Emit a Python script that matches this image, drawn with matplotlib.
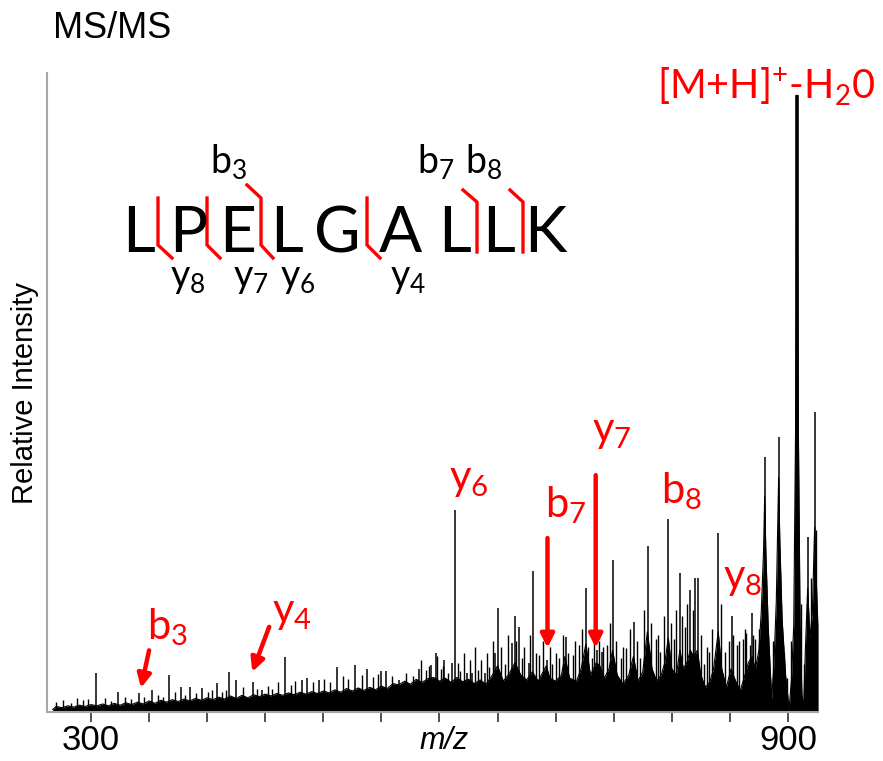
import numpy as np
import matplotlib.pyplot as plt
from matplotlib.lines import Line2D

plt.rcParams['mathtext.default'] = 'regular'

# continuous background of the spectrum (m/z, relative intensity)
env_mz = [267, 270, 275, 280, 285, 290, 295, 300, 305,
          310, 315, 320, 325, 330, 335, 340, 345, 350, 355,
          360, 365, 370, 375, 380, 385, 390, 395, 400, 405,
          410, 415, 420, 425, 430, 435, 440, 445, 450, 455,
          460, 465, 470, 475, 480, 485, 490, 495, 500, 505,
          510, 515, 520, 525, 530, 535, 540, 545, 550, 555,
          560, 565, 570, 575, 580, 585, 590, 595, 600, 605,
          610, 615, 620, 625, 630, 635, 640, 645, 650, 655,
          660, 665, 670, 675, 680, 685, 690, 692, 695, 700,
          705, 708, 712, 718, 722, 726, 730, 735, 738, 742,
          746, 749, 753, 758, 763, 767, 771, 775, 779, 783,
          787, 791, 794, 797, 800, 804, 807, 810, 813, 816,
          819, 822, 825, 829, 833, 836, 840, 843, 847, 851,
          855, 859, 863, 866, 869, 872, 875, 877, 879, 880,
          881, 883, 886, 888, 890, 891, 892, 893, 895, 898,
          901, 903, 905, 906.8, 907.8, 908.8, 910.5, 912, 913.5, 915,
          917, 919, 921, 923, 925, 926]
env_int = [0.4, 0.9, 0.7, 1.0, 0.8, 1.1, 0.9, 1.2, 1.0,
           1.3, 1.0, 1.4, 1.1, 1.5, 1.2, 1.6, 1.3, 1.8, 1.4,
           1.9, 1.6, 2.0, 1.7, 2.1, 1.8, 2.2, 1.9, 2.3, 2.0,
           2.4, 2.1, 2.6, 2.2, 2.7, 2.3, 2.8, 2.5, 2.9, 2.6,
           3.0, 2.7, 3.1, 2.8, 3.2, 2.9, 3.3, 3.0, 3.4, 3.1,
           3.6, 3.2, 3.8, 3.4, 3.9, 3.5, 4.0, 3.6, 4.2, 3.8,
           4.6, 4.4, 5.0, 4.5, 5.3, 4.8, 5.4, 5.6, 5.0, 5.5,
           4.8, 5.6, 4.9, 5.3, 4.6, 5.2, 4.5, 5.8, 7.5, 5.0,
           6.2, 8.0, 6.0, 5.2, 6.5, 5.0, 6.8, 7.5, 5.5, 5.0,
           6.0, 9.0, 5.5, 5.0, 7.0, 11.0, 6.0, 8.0, 7.5, 5.5,
           7.0, 10.0, 6.0, 4.5, 6.0, 9.0, 5.0, 6.5, 13.0, 7.0,
           5.0, 6.0, 8.0, 12.0, 7.0, 6.0, 10.0, 7.0, 8.0, 10.0,
           9.0, 10.0, 6.0, 4.0, 5.0, 7.0, 13.0, 7.0, 4.0, 7.0,
           5.0, 3.5, 6.0, 8.0, 9.0, 7.0, 10.0, 16.0, 26.0, 35.0,
           26.0, 14.0, 2.0, 8.0, 18.0, 28.0, 38.0, 28.0, 15.0, 6.0,
           0.5, 5.0, 14.0, 50.0, 100.0, 50.0, 14.0, 3.0, 0.5, 10.0,
           20.0, 12.0, 16.0, 30.0, 18.0, 14.0]

# resolved fragment peaks
peak_mz = [304.3, 323.3, 341.4, 352.6, 367.2, 377.6, 385.3, 395.7, 408.6, 419.0,
           425.0, 439.7, 447.4, 467.2, 481.9, 486.2, 496.6, 512.1, 527.6, 537.9,
           550.0, 554.3, 565.5, 582.8, 593.1, 596.6, 604.3, 611.2, 613.8, 623.3,
           628.4, 638.8, 647.4, 650.0, 662.1, 664.7, 668.1, 676.7, 680.2, 692.2,
           708.6, 725.9, 735.3, 739.7, 749.1, 767.2, 779.3, 796.6, 806.9, 815.5,
           819.8, 822.4, 839.7, 851.7, 869.0, 880.2, 892.2, 907.8, 917.2, 923.3]
peak_int = [6.3, 3.2, 3.1, 3.6, 6.0, 4.1, 4.1, 3.9, 4.7, 6.5,
            5.2, 4.9, 3.6, 8.9, 5.2, 5.5, 5.2, 7.3, 7.6, 7.0,
            6.6, 6.6, 5.2, 7.0, 7.6, 9.6, 8.4, 7.9, 32.7, 6.3,
            6.3, 6.3, 9.6, 16.9, 11.2, 15.6, 13.8, 7.9, 22.9, 8.4,
            12.2, 20.1, 10.0, 9.7, 24.6, 14.6, 26.9, 31.3, 22.5, 19.8,
            21.7, 21.7, 29.0, 15.6, 16.0, 41.3, 44.6, 100.0, 28.4, 48.6]

# small noise peaks
minor_mz = [270, 276, 283, 288, 293, 297, 312, 317, 329, 334,
            346, 358, 362, 372, 381, 390, 401, 404, 413, 416,
            431, 443, 452, 456, 461, 472, 476, 491, 501, 506,
            517, 521, 533, 543, 547, 559, 571, 577, 588, 601,
            607, 618, 633, 643, 656, 671, 686, 697, 703, 715,
            720, 731, 744, 756, 761, 773, 786, 790, 802, 811,
            828, 832, 846, 856, 861, 864, 867, 872, 914, 920,
            584, 591, 598, 603, 616, 621, 626, 631, 636, 641,
            646, 653, 659, 666, 673, 678, 683, 689, 695, 700,
            706, 711, 717, 723, 728, 733, 737, 741, 747, 752,
            758, 764, 770, 776, 782, 788, 793, 799, 804, 809,
            813, 818, 825, 830, 835, 842, 849, 853, 858, 863,
            870, 875, 885, 887, 897, 899, 903, 911, 916, 924]
minor_int = [1.6, 2.0, 1.5, 2.3, 1.9, 2.1, 2.2, 1.8, 2.5, 2.1,
             2.4, 2.8, 2.5, 3.2, 2.8, 3.1, 3.3, 3.6, 3.2, 3.5,
             4.0, 3.8, 4.2, 3.8, 4.8, 4.4, 5.0, 4.8, 5.4, 4.8,
             5.8, 5.3, 6.0, 5.6, 6.2, 5.8, 6.3, 5.8, 6.8, 7.0,
             6.3, 6.6, 6.8, 7.3, 7.8, 8.8, 9.3, 7.8, 8.8, 9.3,
             10.8, 8.8, 10.8, 8.8, 10.3, 8.8, 11.8, 9.8, 11.8, 13.8,
             7.8, 9.8, 9.8, 10.8, 11.8, 12.8, 10.8, 11.8, 7.8, 21.8,
             8.5, 7.5, 9.0, 7.5, 8.0, 9.5, 8.5, 10.5, 8.5, 9.5,
             11.5, 10.5, 12.5, 11.5, 10.5, 12.5, 9.5, 11.5, 10.5, 9.5,
             12.5, 9.5, 11.5, 13.5, 10.5, 12.5, 11.5, 10.5, 14.5, 11.5,
             10.5, 13.5, 11.5, 16.5, 14.5, 12.5, 15.5, 14.5, 16.5, 15.5,
             17.5, 16.5, 12.5, 10.5, 13.5, 17.5, 11.5, 12.5, 11.5, 13.5,
             12.5, 13.5, 5.5, 11.5, 9.5, 5.5, 11.5, 17.5, 17.5, 29.5]

# annotated ions in the spectrum: label, label position, arrow tail/head
ion_labels = ['$b_3$', '$y_4$', '$y_6$', '$b_7$', '$y_7$', '$b_8$', '$y_8$']
ion_text_mz = [348.3, 456.0, 608.6, 690.5, 731.0, 791.0, 844.0]
ion_text_int = [11.7, 14.4, 36.0, 31.6, 43.8, 33.9, 19.9]
arrow_mz = [(350.0, 343.0), (453.4, 438.8), (693.0, 693.0), (734.5, 734.5)]
arrow_int = [(10.0, 3.9), (13.8, 6.5), (28.2, 10.4), (38.4, 10.4)]

xtick_vals = list(range(300, 901, 50))
xtick_text = ['300'] + [''] * 11 + ['900']

# peptide sequence and fragment labels (pixel positions in the figure)
residues = ['L', 'P', 'E', 'L', 'G', 'A', 'L', 'L', 'K']
residue_x = [138, 188, 238, 287, 337, 400, 454, 499, 545]
frag_labels = ['$b_3$', '$b_7$', '$b_8$', '$y_8$', '$y_7$', '$y_6$', '$y_4$']
frag_x = [210, 417, 465, 170, 233, 280, 390]
frag_y = [173, 173, 173, 287, 287, 287, 287]

W, H = 883, 761
fx = lambda x: x / W
fy = lambda y: 1 - y / H

fig = plt.figure(figsize=(8.83, 7.61), dpi=100)
ax = fig.add_axes([fx(47), fy(712), fx(818) - fx(47), fy(73) - fy(712)])

ax.fill_between(env_mz, 0, env_int, color='black', lw=0)
ax.plot(env_mz, env_int, color='black', lw=0.8)
ax.vlines(minor_mz, 0, minor_int, color='black', lw=1.0)
ax.vlines(peak_mz, 0, peak_int, color='black', lw=1.1)
top = int(np.argmax(peak_int))
ax.vlines(peak_mz[top], 0, peak_int[top], color='black', lw=2.6)

ax.set_xlim(262.1, 925.9)
ax.set_ylim(0, 103.6)
ax.set_yticks([])
ax.set_xticks(xtick_vals)
ax.set_xticklabels(xtick_text, family='Liberation Sans', fontsize=25)
ax.tick_params(axis='x', direction='out', length=7, width=1.2, color='#333333', pad=2)
for s in ['top', 'right']:
    ax.spines[s].set_visible(False)
for s in ['left', 'bottom']:
    ax.spines[s].set_color('#a6a6a6')
    ax.spines[s].set_linewidth(1.5)
ax.set_ylabel('Relative Intensity', family='Liberation Sans', fontsize=21, labelpad=6)
ax.text(604, -0.045, 'm/z', transform=ax.get_xaxis_transform(), ha='center', va='center',
        family='Liberation Sans', style='italic', fontsize=22)

# spectrum annotations
for lab, x, y in zip(ion_labels, ion_text_mz, ion_text_int):
    ax.text(x, y, lab, color='red', family='Lato', fontsize=30, ha='left', va='baseline')
for (x0, x1), (y0, y1) in zip(arrow_mz, arrow_int):
    ax.annotate('', xy=(x1, y1), xytext=(x0, y0),
                arrowprops=dict(arrowstyle='-|>', color='red', lw=3.2, mutation_scale=20,
                                shrinkA=0, shrinkB=0))

fig.text(fx(53), fy(28), 'MS/MS', family='Liberation Sans', fontsize=26, va='center', ha='left')
fig.text(fx(657), fy(99), '[M+H]$^{+}$-H$_{2}$0', color='red', family='Lato', fontsize=28.5,
         ha='left', va='baseline')

# peptide sequence
for r, x in zip(residues, residue_x):
    fig.text(fx(x), fy(252), r, family='Lato', fontsize=46, ha='center', va='baseline')
for lab, x, y in zip(frag_labels, frag_x, frag_y):
    fig.text(fx(x), fy(y), lab, family='Lato', fontsize=27, ha='left', va='baseline')

# cleavage marks
cuts = [
    [(158, 198), (158, 245), (172, 258)],
    [(207, 198), (207, 245), (220, 258)],
    [(247, 185), (261, 198), (261, 245), (273, 258)],
    [(367, 198), (367, 245), (380, 258)],
    [(463, 190), (477, 202), (477, 252)],
    [(510, 190), (523, 202), (523, 252)],
]
for c in cuts:
    xs = [fx(p[0]) for p in c]
    ys = [fy(p[1]) for p in c]
    fig.add_artist(Line2D(xs, ys, color='red', lw=2.4, transform=fig.transFigure,
                          solid_joinstyle='miter'))

fig.savefig('out.png', dpi=100)
